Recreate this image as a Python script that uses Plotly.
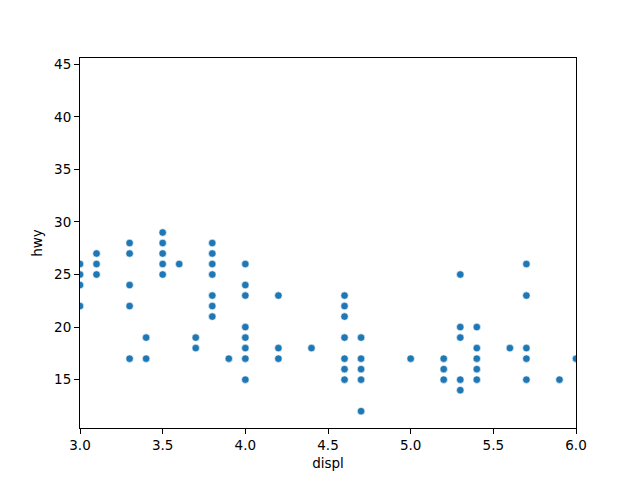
import plotly.graph_objects as go

# (displ, hwy) pairs, grouped by displacement
displ = (
    [3.0] * 4 + [3.1] * 3 + [3.3] * 5 + [3.4] * 2 + [3.5] * 5 + [3.6]
    + [3.7] * 2 + [3.8] * 7 + [3.9] + [4.0] * 8 + [4.2] * 3 + [4.4]
    + [4.6] * 7 + [4.7] * 5 + [5.0] + [5.2] * 3 + [5.3] * 5 + [5.4] * 5
    + [5.6] + [5.7] * 5 + [5.9] + [6.0]
)
hwy = (
    [26, 25, 24, 22]
    + [27, 26, 25]
    + [28, 27, 24, 22, 17]
    + [19, 17]
    + [29, 28, 27, 26, 25]
    + [26]
    + [19, 18]
    + [28, 27, 26, 25, 23, 22, 21]
    + [17]
    + [26, 24, 23, 20, 19, 18, 17, 15]
    + [23, 18, 17]
    + [18]
    + [23, 22, 21, 19, 17, 16, 15]
    + [19, 17, 16, 15, 12]
    + [17]
    + [17, 16, 15]
    + [25, 20, 19, 15, 14]
    + [20, 18, 17, 16, 15]
    + [18]
    + [26, 23, 18, 17, 15]
    + [15]
    + [17]
)

x_ticks = [3.0, 3.5, 4.0, 4.5, 5.0, 5.5, 6.0]
y_ticks = [15, 20, 25, 30, 35, 40, 45]

fig = go.Figure()
fig.add_trace(go.Scatter(
    x=displ, y=hwy, mode='markers',
    marker=dict(color='#1f77b4', size=7.5, line=dict(color='white', width=0.6)),
    showlegend=False,
))

axis_style = dict(
    showgrid=False, zeroline=False, showline=True, linecolor='black', linewidth=1,
    mirror=True, ticks='outside', ticklen=5, tickwidth=1, tickcolor='black',
    tickfont=dict(family='DejaVu Sans', size=13.5, color='black'),
)

fig.update_xaxes(
    range=[3.0, 6.0], tickvals=x_ticks, ticktext=[f'{v:.1f}' for v in x_ticks],
    title=dict(text='displ', standoff=6, font=dict(family='DejaVu Sans', size=13.5, color='black')),
    **axis_style,
)
fig.update_yaxes(
    range=[10.4, 45.6], tickvals=y_ticks,
    title=dict(text='hwy', standoff=8, font=dict(family='DejaVu Sans', size=13.5, color='black')),
    **axis_style,
)

# page body adds an 8px offset, so the figure is shrunk and shifted to match
fig.update_layout(
    width=632, height=472,
    margin=dict(l=72, r=64, t=50, b=52, autoexpand=False),
    plot_bgcolor='white', paper_bgcolor='white',
)

fig.write_html("out.html")
